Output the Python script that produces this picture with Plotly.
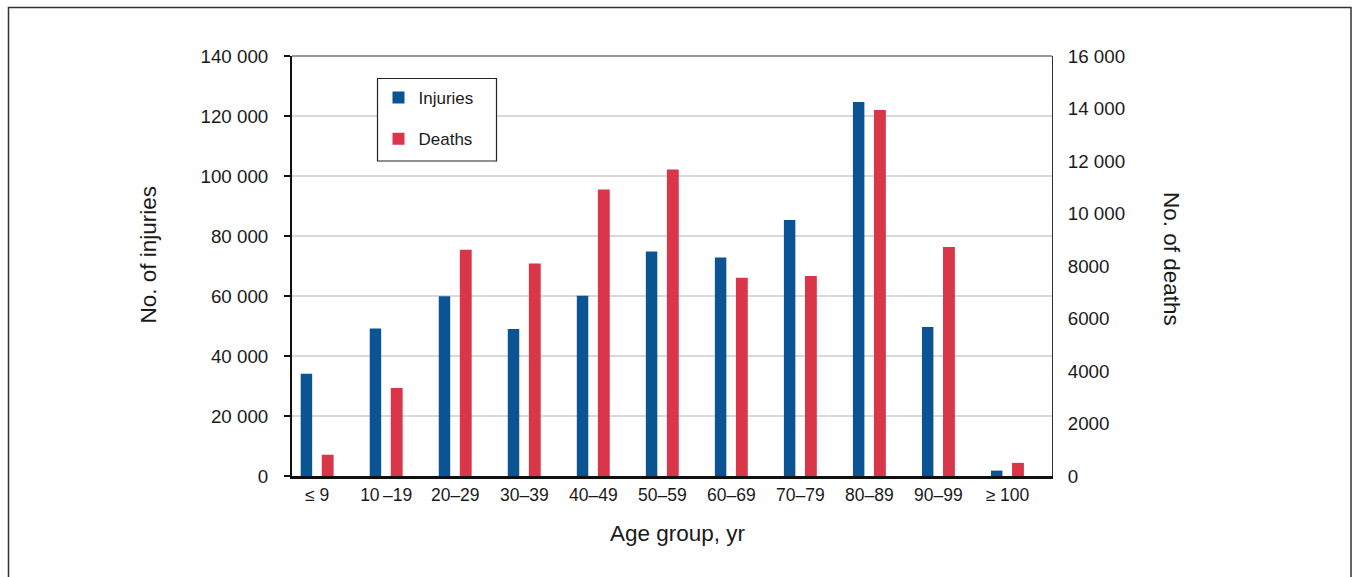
import plotly.graph_objects as go

categories = ["≤ 9", "10\u2009–19", "20–29", "30–39", "40–49", "50–59", "60–69", "70–79", "80–89", "90–99", "≥ 100"]
injuries = [34100, 49200, 59900, 49000, 60100, 74800, 72800, 85300, 124700, 49700, 1800]
deaths = [810, 3350, 8620, 8100, 10910, 11680, 7550, 7620, 13940, 8720, 500]

inj_tickvals = [0, 20000, 40000, 60000, 80000, 100000, 120000, 140000]
inj_ticktext = ["0", "20 000", "40 000", "60 000", "80 000", "100 000", "120 000", "140 000"]
death_tickvals = [0, 2000, 4000, 6000, 8000, 10000, 12000, 14000, 16000]
death_ticktext = ["0", "2000", "4000", "6000", "8000", "10 000", "12 000", "14 000", "16 000"]

BLUE = "#0A5494"
RED = "#D9364A"
FONT = "Liberation Sans, Arial, sans-serif"
TXT = "#1a1a1a"

fig = go.Figure()
fig.add_trace(go.Bar(
    x=categories, y=injuries, name="Injuries", yaxis="y",
    marker=dict(color=BLUE, line=dict(width=0)),
    width=0.166, offset=-0.239, legendgroup="a",
))
fig.add_trace(go.Bar(
    x=categories, y=deaths, name="Deaths", yaxis="y2",
    marker=dict(color=RED, line=dict(width=0)),
    width=0.172, offset=0.066, legendgroup="b",
))

L, R, T, B = 292, 1052, 56, 476
W, H = 1355, 577

def px(xp):
    return (xp - L) / (R - L)

def py(yp):
    return (B - yp) / (B - T)

fig.update_layout(
    width=W, height=H,
    margin=dict(l=L, r=W - R, t=T, b=H - B, pad=0),
    paper_bgcolor="white", plot_bgcolor="white",
    font=dict(family=FONT, size=17, color=TXT),
    barmode="overlay",
    showlegend=True,
    legend=dict(
        x=px(378.5), y=py(80), xanchor="left", yanchor="top",
        borderwidth=0, bgcolor="rgba(0,0,0,0)",
        font=dict(family=FONT, size=17, color=TXT),
        traceorder="grouped", tracegroupgap=16,
    ),
    xaxis=dict(
        type="category", range=[-0.365, 10.645],
        showline=True, linecolor="#111", linewidth=2.5,
        ticks="", showgrid=False, zeroline=False,
        tickfont=dict(family=FONT, size=17.5, color=TXT),
        ticklabelstandoff=1,
    ),
    yaxis=dict(
        range=[0, 140000], tickvals=inj_tickvals, ticktext=inj_ticktext,
        showline=True, linecolor="#111", linewidth=2,
        ticks="outside", ticklen=6, tickwidth=1.5, tickcolor="#111",
        showgrid=True, gridcolor="#d9d9d9", gridwidth=1.5, zeroline=False,
        tickfont=dict(family=FONT, size=18.75, color=TXT),
        ticklabelstandoff=12,
    ),
    yaxis2=dict(
        range=[0, 16000], tickvals=death_tickvals, ticktext=death_ticktext,
        overlaying="y", side="right",
        showline=True, linecolor="#333", linewidth=1,
        ticks="", showgrid=False, zeroline=False,
        tickfont=dict(family=FONT, size=18.75, color=TXT),
        ticklabelstandoff=11,
    ),
    shapes=[
        dict(type="line", xref="paper", yref="paper", x0=0, x1=1, y0=1, y1=1,
             line=dict(color="#333", width=1)),
        dict(type="rect", xref="paper", yref="paper",
             x0=px(8.5), x1=px(1351), y0=py(7.5), y1=py(600),
             line=dict(color="#333", width=1.5), fillcolor="rgba(0,0,0,0)", layer="below"),
        dict(type="rect", xref="paper", yref="paper",
             x0=px(377.5), x1=px(496.5), y0=py(78.5), y1=py(161),
             line=dict(color="#222", width=1.2), fillcolor="white", layer="above"),
    ],
    annotations=[
        dict(text="No. of injuries", xref="paper", yref="paper", x=px(148), y=py(254.5),
             textangle=-90, showarrow=False, xanchor="center", yanchor="middle",
             font=dict(family=FONT, size=22.5, color=TXT)),
        dict(text="No. of deaths", xref="paper", yref="paper", x=px(1172), y=py(259),
             textangle=90, showarrow=False, xanchor="center", yanchor="middle",
             font=dict(family=FONT, size=22.5, color=TXT)),
        dict(text="Age group, yr", xref="paper", yref="paper", x=px(677.5), y=py(533),
             showarrow=False, xanchor="center", yanchor="middle",
             font=dict(family=FONT, size=22.5, color=TXT)),
    ],
)

fig.write_html("out.html", config={"displayModeBar": False},
               post_script="document.body.style.margin='0';document.body.style.overflow='hidden';")
